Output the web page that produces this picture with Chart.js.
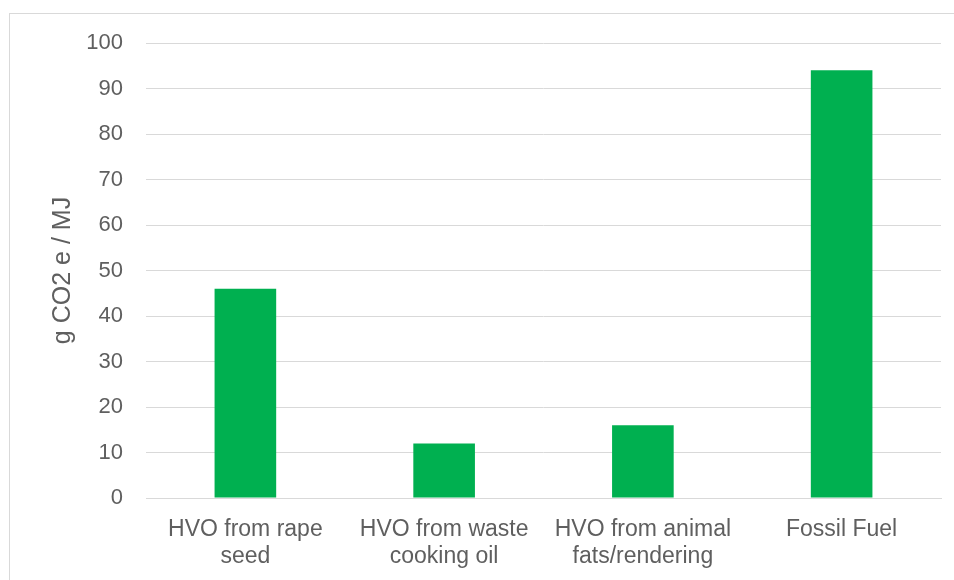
<!DOCTYPE html>
<html>
<head>
<meta charset="utf-8">
<script src="https://cdn.jsdelivr.net/npm/chart.js@4"></script>
<style>
  html, body { margin: 0; padding: 0; background: #fff; overflow: hidden; }
  #marco { position: absolute; left: 9px; top: 13px; width: 1000px; height: 600px; border: 1px solid #d9d9d9; }
  #caja { position: absolute; left: 0; top: 0; width: 954px; height: 580px; }
</style>
</head>
<body>
<div id="marco"></div>
<div id="caja"><canvas id="grafico"></canvas></div>
<script>
// Datos
const categorias = [
    ["HVO from rape", "seed"],
    ["HVO from waste", "cooking oil"],
    ["HVO from animal", "fats/rendering"],
    ["Fossil Fuel"]
];
const emisiones = [46, 12, 16, 94];
const ejeY = { min: 0, max: 100, paso: 10 };
const tituloEjeY = "g CO2 e / MJ";

const fuente = "'Liberation Sans', Arial, sans-serif";
const colorTexto = "#5f5f5f";
const colorRejilla = "#d9d9d9";

const configuracion = {
    type: 'bar',
    data: {
        labels: categorias,
        datasets: [{
            data: emisiones,
            backgroundColor: '#00b050',
            categoryPercentage: 0.31,
            barPercentage: 1
        }]
    },
    options: {
        responsive: false,
        animation: false,
        layout: { padding: { top: 43, right: 13, left: 0, bottom: 0 } },
        plugins: {
            legend: { display: false },
            tooltip: { enabled: false }
        },
        scales: {
            x: {
                grid: { display: false },
                border: { color: colorRejilla },
                ticks: {
                    color: colorTexto,
                    font: { family: fuente, size: 23, lineHeight: 1.18 },
                    padding: 10,
                    maxRotation: 0,
                    autoSkip: false
                },
                afterFit: (escala) => { escala.height = 82; }
            },
            y: {
                min: ejeY.min,
                max: ejeY.max,
                grid: { color: colorRejilla, drawTicks: false },
                border: { display: false },
                ticks: {
                    stepSize: ejeY.paso,
                    color: colorTexto,
                    font: { family: fuente, size: 22 },
                    padding: 23
                },
                title: {
                    display: true,
                    text: tituloEjeY,
                    color: colorTexto,
                    font: { family: fuente, size: 25 },
                    padding: { top: 48, bottom: 0 }
                },
                afterFit: (escala) => { escala.width = 146; }
            }
        }
    }
};

const lienzo = document.querySelector("#grafico");
lienzo.width = 954;
lienzo.height = 580;
new Chart(lienzo, configuracion);
</script>
</body>
</html>
